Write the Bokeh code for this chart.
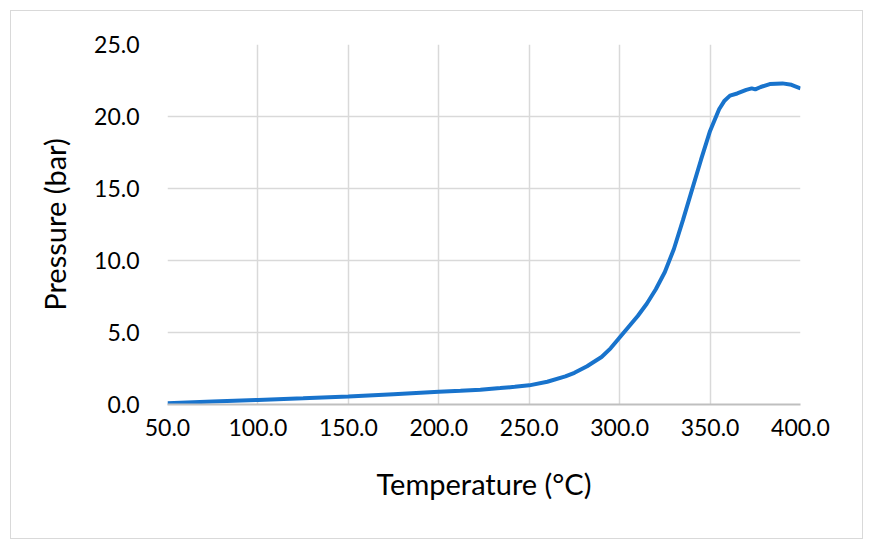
from bokeh.plotting import figure
from bokeh.layouts import column
from bokeh.models import Range1d, FixedTicker, PrintfTickFormatter
from bokeh.embed import file_html
from bokeh.resources import INLINE

temperature = [50, 75, 100, 125, 150, 175, 200, 212, 223, 234, 242, 250, 260, 270, 275,
               282, 285, 290, 295, 300, 305, 310, 315, 320, 325, 330, 335, 340, 345,
               350, 355, 358, 361, 365, 370, 373, 375, 378, 383, 390, 395, 400]
pressure = [0.08, 0.20, 0.32, 0.43, 0.55, 0.72, 0.89, 0.95, 1.02, 1.14, 1.23, 1.33, 1.58,
            1.95, 2.20, 2.66, 2.90, 3.30, 3.90, 4.65, 5.40, 6.15, 7.00, 8.00, 9.20, 10.80,
            12.80, 14.90, 17.00, 19.00, 20.50, 21.10, 21.45, 21.60, 21.85, 21.95, 21.88,
            22.05, 22.25, 22.30, 22.20, 21.95]

x_ticks = [50, 100, 150, 200, 250, 300, 350, 400]
y_ticks = [0, 5, 10, 15, 20, 25]

FONT = "Lato"
OFF = 11  # outer border offset (10px margin + 1px border)

p = figure(width=851, height=527, frame_width=633, frame_height=360,
           min_border_left=167 - OFF, min_border_top=44 - OFF,
           min_border_right=62, min_border_bottom=134,
           x_range=Range1d(50, 400), y_range=Range1d(0, 25),
           output_backend="svg", toolbar_location=None)
p.outline_line_color = None
p.background_fill_color = "white"
p.border_fill_color = "white"

p.line(temperature, pressure, line_color="#1873CC", line_width=4)

for ax in (p.xaxis[0], p.yaxis[0]):
    ax.major_tick_line_color = None
    ax.minor_tick_line_color = None
    ax.major_label_text_font = FONT
    ax.major_label_text_font_size = "23px"
    ax.major_label_text_color = "black"
    ax.axis_label_text_font = FONT
    ax.axis_label_text_font_size = "29px"
    ax.axis_label_text_font_style = "normal"
    ax.axis_label_text_color = "black"
    ax.formatter = PrintfTickFormatter(format="%.1f")

p.xaxis.ticker = FixedTicker(ticks=x_ticks)
p.yaxis.ticker = FixedTicker(ticks=y_ticks)
p.xaxis.axis_label = "Temperature (°C)"
p.yaxis.axis_label = "Pressure (bar)"
p.xaxis.axis_line_color = "#bfbfbf"
p.xaxis.axis_line_width = 2
p.yaxis.axis_line_color = None
p.xaxis.major_label_standoff = 8
p.yaxis.major_label_standoff = 22
p.xaxis.axis_label_standoff = 27
p.yaxis.axis_label_standoff = 19

p.xgrid.ticker = FixedTicker(ticks=x_ticks)
p.ygrid.ticker = FixedTicker(ticks=y_ticks)
p.grid.grid_line_color = "#d9d9d9"
p.grid.grid_line_width = 1.5

layout = column(p, styles={"border": "1px solid #d9d9d9", "margin-left": "10px",
                           "margin-top": "10px", "background-color": "white"})

open("out.html", "w").write(file_html(layout, INLINE))
